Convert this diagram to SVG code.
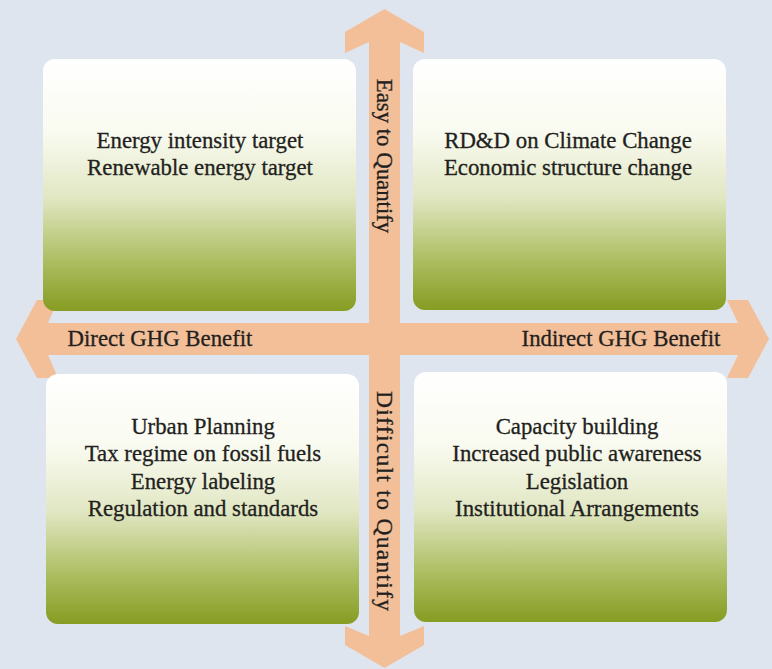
<svg xmlns="http://www.w3.org/2000/svg" width="772" height="669" viewBox="0 0 772 669">
<defs>
<linearGradient id="g" x1="0" y1="0" x2="0" y2="1">
<stop offset="0" stop-color="#ffffff"/>
<stop offset="0.3" stop-color="#f9faef"/>
<stop offset="0.55" stop-color="#e1e7c3"/>
<stop offset="0.8" stop-color="#adbe62"/>
<stop offset="1" stop-color="#869c22"/>
</linearGradient>
<style>
.box{fill:url(#g);}
.arrow{fill:#f3bf98;}
text{font-family:"Liberation Serif","Times New Roman",serif;font-size:22.8px;fill:#231f20;stroke:#231f20;stroke-width:0.3px;text-anchor:middle;}
</style>
</defs>
<rect width="772" height="669" fill="#dfe5ef"/>
<g id="connectors">
<polygon class="arrow" points="384.5,9 424,32 424,53 400,42 400,636 424,626 424,645 384.5,668 345,645 345,626 369,636 369,42 345,53 345,32"/>
<polygon class="arrow" points="16,339 37,300 58,300 48,323 738,323 727,300 748,300 769,339 748,378 727,378 738,355 48,355 58,378 37,378"/>
</g>
<g id="node-tl">
<rect class="box" x="43" y="59" width="313" height="252" rx="12"/>
<text x="200" y="148">Energy intensity target</text>
<text x="200" y="175">Renewable energy target</text>
</g>
<g id="node-tr">
<rect class="box" x="413" y="59" width="313" height="251" rx="12"/>
<text x="568" y="148">RD&amp;D on Climate Change</text>
<text x="568" y="175">Economic structure change</text>
</g>
<g id="node-bl">
<rect class="box" x="46" y="374" width="313" height="250" rx="12"/>
<text x="203" y="434">Urban Planning</text>
<text x="203" y="461">Tax regime on fossil fuels</text>
<text x="203" y="489">Energy labeling</text>
<text x="203" y="516">Regulation and standards</text>
</g>
<g id="node-br">
<rect class="box" x="414" y="372" width="313" height="250" rx="12"/>
<text x="577" y="434">Capacity building</text>
<text x="577" y="461">Increased public awareness</text>
<text x="577" y="489">Legislation</text>
<text x="577" y="516">Institutional Arrangements</text>
</g>
<g id="labels">
<text x="160" y="346">Direct GHG Benefit</text>
<text x="621" y="346">Indirect GHG Benefit</text>
<text transform="translate(384,156) rotate(90)" y="7">Easy to Quantify</text>
<text transform="translate(384,501) rotate(90)" y="7" style="font-size:23.5px" textLength="220" lengthAdjust="spacing">Difficult to Quantify</text>
</g>
</svg>
